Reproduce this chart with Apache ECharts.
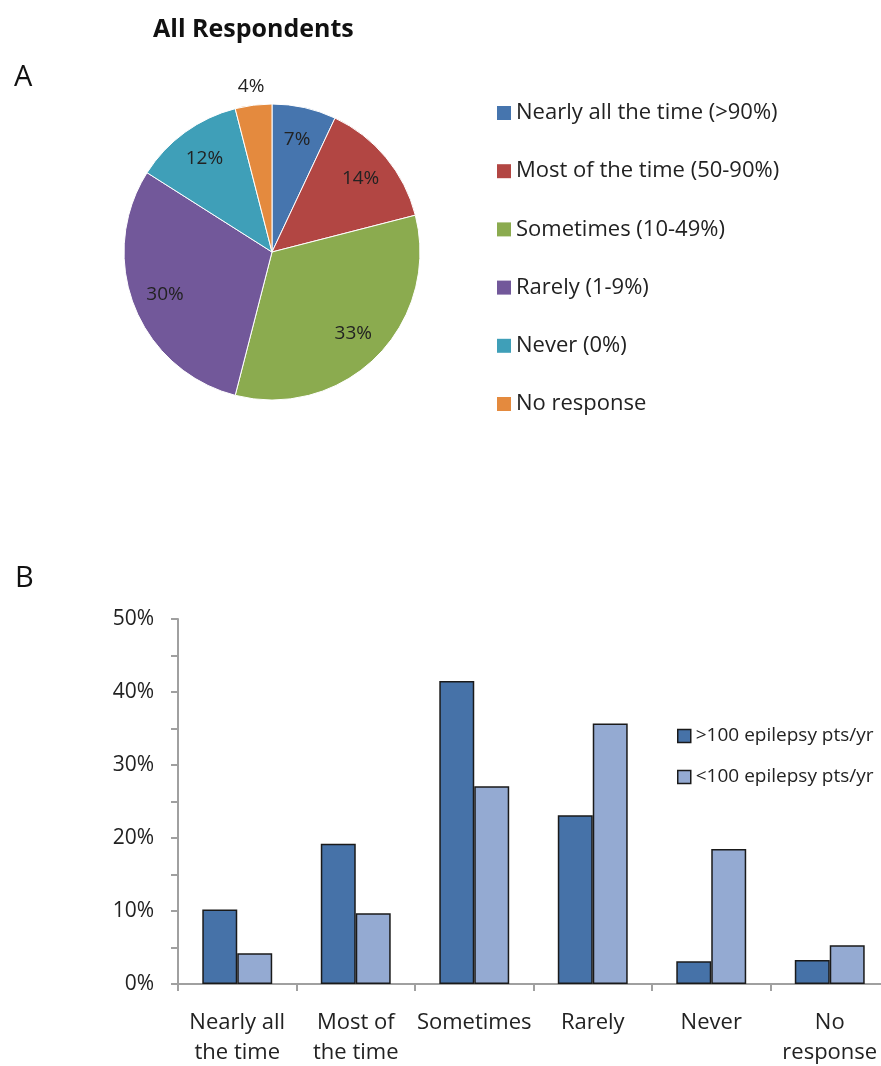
<!DOCTYPE html>
<html>
<head>
<meta charset="utf-8">
<script src="https://cdn.jsdelivr.net/npm/echarts@6/dist/echarts.min.js"></script>
<style>
html,body{margin:0;padding:0;background:#fff;}
#chart{width:881px;height:1066px;}
</style>
</head>
<body>
<div id="chart"></div>
<script>
// ---- Data ----
const pieCategories = ['Nearly all the time (>90%)', 'Most of the time (50-90%)', 'Sometimes (10-49%)', 'Rarely (1-9%)', 'Never (0%)', 'No response'];
const pieValues = [7, 14, 33, 30, 12, 4];
const pieColors = ['#4675ae', '#b24643', '#8bab4f', '#72589a', '#3f9fb8', '#e48a3e'];

const barCategories = ['Nearly all\nthe time', 'Most of\nthe time', 'Sometimes', 'Rarely', 'Never', 'No\nresponse'];
const seriesNames = ['>100 epilepsy pts/yr', '<100 epilepsy pts/yr'];
const highVolume = [10.2, 19.2, 41.5, 23.1, 3.1, 3.3];
const lowVolume = [4.2, 9.7, 27.1, 35.7, 18.5, 5.3];
const barColors = ['#4672a8', '#94aad2'];

const FONT = 'Open Sans';
const TXT = '#222';

const chart = echarts.init(document.getElementById('chart'), null, {renderer: 'canvas'});

const pieData = pieCategories.map((n, i) => ({name: n, value: pieValues[i], itemStyle: {color: pieColors[i]}}));
const innerLabelData = pieCategories.map((n, i) => ({name: n, value: pieValues[i], label: {show: i !== 5}}));
const outerLabelData = pieCategories.map((n, i) => ({name: n, value: pieValues[i], label: {show: i === 5}}));

const option = {
  backgroundColor: '#fff',
  animation: false,
  title: {
    text: 'All Respondents',
    left: 148, top: 12,
    textStyle: {fontFamily: FONT, fontSize: 25, fontWeight: 'bold', color: '#111'}
  },
  graphic: [
    {type: 'text', left: 14, top: 63, style: {text: 'A', fontFamily: FONT, fontSize: 29, fill: '#111'}},
    {type: 'text', left: 15, top: 564, style: {text: 'B', fontFamily: FONT, fontSize: 29, fill: '#111'}}
  ],
  legend: [
    {
      data: pieCategories,
      orient: 'vertical',
      left: 492, top: 97,
      itemWidth: 14, itemHeight: 14, itemGap: 36.2,
      icon: 'rect',
      itemStyle: {borderWidth: 0},
      textStyle: {fontFamily: FONT, fontSize: 22, lineHeight: 20, color: TXT}
    },
    {
      data: seriesNames,
      orient: 'vertical',
      left: 672, top: 721,
      itemWidth: 13, itemHeight: 13, itemGap: 21,
      icon: 'rect',
      itemStyle: {borderColor: '#1a1a1a', borderWidth: 1.5},
      textStyle: {fontFamily: FONT, fontSize: 19, lineHeight: 20, color: TXT}
    }
  ],
  grid: {left: 178, right: -8, top: 619, bottom: 82, containLabel: false, outerBoundsMode: 'none'},
  xAxis: {
    type: 'category',
    data: barCategories,
    axisLine: {lineStyle: {color: '#a0a0a0', width: 2}},
    axisTick: {show: true, length: 7, lineStyle: {color: '#a0a0a0', width: 2}},
    axisLabel: {fontFamily: FONT, fontSize: 22, lineHeight: 30, color: TXT, margin: 24, interval: 0}
  },
  yAxis: {
    type: 'value',
    min: 0, max: 50, interval: 10,
    axisLine: {show: true, lineStyle: {color: '#a0a0a0', width: 2}},
    axisTick: {show: true, length: 7, lineStyle: {color: '#a0a0a0', width: 2}},
    minorTick: {show: true, splitNumber: 2, length: 7, lineStyle: {color: '#a0a0a0', width: 2}},
    splitLine: {show: false},
    axisLabel: {fontFamily: FONT, fontSize: 21, color: TXT, margin: 24, formatter: '{value}%'}
  },
  series: [
    {
      type: 'pie',
      name: 'main',
      center: [272, 252],
      radius: 148,
      startAngle: 90,
      clockwise: true,
      data: pieData,
      label: {show: false},
      labelLine: {show: false},
      itemStyle: {borderColor: '#fff', borderWidth: 1}
    },
    {
      type: 'pie',
      name: 'innerLabels',
      center: [272, 252],
      radius: [76, 148],
      startAngle: 90,
      clockwise: true,
      silent: true,
      data: innerLabelData,
      itemStyle: {color: 'rgba(0,0,0,0)'},
      label: {position: 'inside', formatter: '{c}%', fontFamily: FONT, fontSize: 19, color: TXT},
      labelLine: {show: false}
    },
    {
      type: 'pie',
      name: 'outerLabels',
      center: [272, 252],
      radius: [148, 180],
      startAngle: 90,
      clockwise: true,
      silent: true,
      data: outerLabelData,
      itemStyle: {color: 'rgba(0,0,0,0)'},
      label: {position: 'inside', formatter: '{c}%', fontFamily: FONT, fontSize: 19, color: TXT},
      labelLine: {show: false}
    },
    {
      type: 'bar',
      name: seriesNames[0],
      data: highVolume,
      barGap: '0%',
      barCategoryGap: '41%',
      itemStyle: {color: barColors[0], borderColor: '#1a1a1a', borderWidth: 1.5}
    },
    {
      type: 'bar',
      name: seriesNames[1],
      data: lowVolume,
      itemStyle: {color: barColors[1], borderColor: '#1a1a1a', borderWidth: 1.5}
    }
  ]
};
chart.setOption(option);
</script>
</body>
</html>
